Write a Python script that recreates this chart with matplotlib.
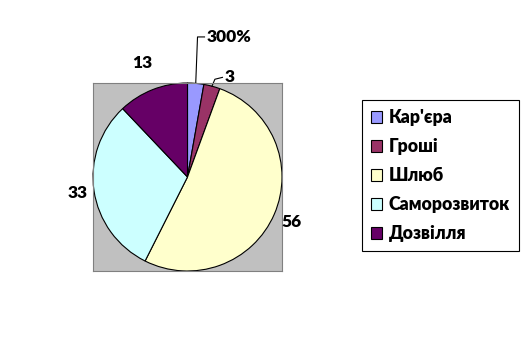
import numpy as np
import matplotlib.pyplot as plt

categories = ["Кар'єра", "Гроші", "Шлюб", "Саморозвиток", "Дозвілля"]
values = [3, 3, 56, 33, 13]
labels = ["300%", "3", "56", "33", "13"]
colors = ["#9999FF", "#993366", "#FFFFCC", "#CCFFFF", "#660066"]

plt.rcParams['font.family'] = ['Lato', 'DejaVu Sans']

W, H = 532, 355
fig = plt.figure(figsize=(W / 100, H / 100), dpi=100)

# plot area in pixels (left, top, right, bottom)
l, t, r, b = 93, 83, 282, 271
ax = fig.add_axes([l / W, 1 - b / H, (r - l) / W, (b - t) / H])

wedges, _ = ax.pie(values, colors=colors, startangle=90, counterclock=False,
                   radius=1, frame=True,
                   wedgeprops=dict(edgecolor="black", linewidth=0.8))
ax.set_facecolor("#C0C0C0")
for s in ax.spines.values():
    s.set_color("#808080")
    s.set_linewidth(0.8)
ax.set_xlim(-1, 1)
ax.set_ylim(-1, 1)
ax.set_aspect('auto')
ax.set_xticks([])
ax.set_yticks([])

# mid angles (radians, standard orientation)
mids = [np.deg2rad((w.theta1 + w.theta2) / 2) for w in wedges]

# large slices: plain outside labels
dists = {2: 1.2, 3: 1.17, 4: 1.3}
for i, d in dists.items():
    ax.text(d * np.cos(mids[i]), d * np.sin(mids[i]), labels[i], ha='center',
            va='center', fontsize=12.5, fontweight='heavy', clip_on=False)

# small slices: leader lines
leaders = {0: [(0.106, 1.49), (0.18, 1.49)], 1: [(0.29, 1.04), (0.37, 1.06)]}
for i, pts in leaders.items():
    x0, y0 = np.cos(mids[i]), np.sin(mids[i])
    xs = [x0] + [p[0] for p in pts]
    ys = [y0] + [p[1] for p in pts]
    ax.plot(xs, ys, color="black", linewidth=0.8, clip_on=False)
    ax.text(pts[-1][0] + 0.02, pts[-1][1], labels[i], ha='left', va='center',
            fontsize=12.5, fontweight='heavy', clip_on=False)

leg = fig.legend(wedges, categories, loc='upper left',
                 bbox_to_anchor=(362 / W, 1 - 100 / H), fancybox=False,
                 edgecolor='black', framealpha=1,
                 prop=dict(weight='heavy', size=12.8),
                 handlelength=0.65, handleheight=0.65, handletextpad=0.35,
                 labelspacing=0.68, borderpad=0.5, borderaxespad=0)
leg.get_frame().set_linewidth(0.8)

fig.savefig("out.png", dpi=100)
